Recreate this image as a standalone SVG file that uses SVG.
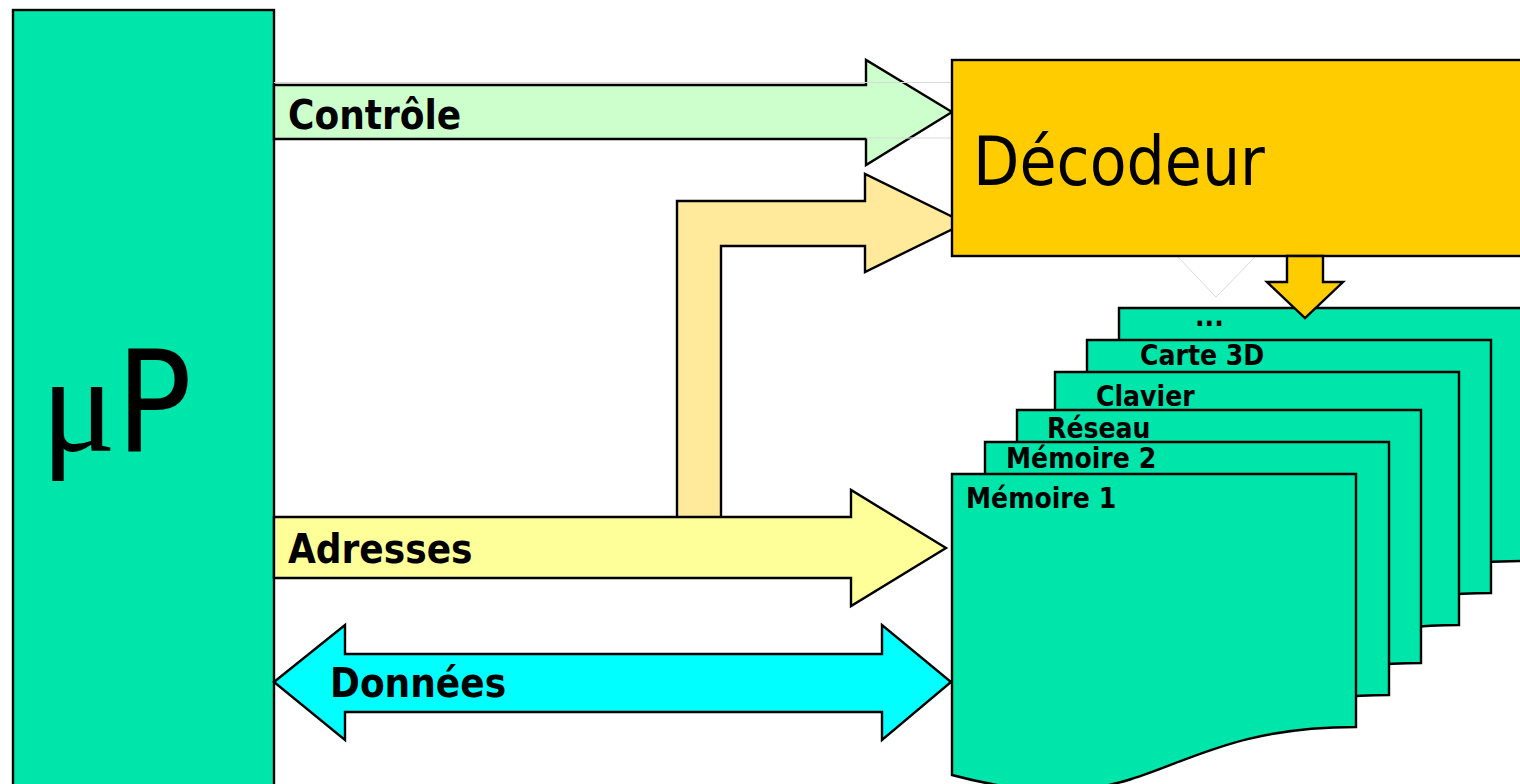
<svg xmlns="http://www.w3.org/2000/svg" xmlns:xlink="http://www.w3.org/1999/xlink" width="1520" height="784" viewBox="0 0 1520 784">
  <style>
    .edge { stroke: #000; stroke-width: 2.4; stroke-linejoin: miter; }
    .bus  { font-family: "DejaVu Sans Condensed", "DejaVu Sans", sans-serif; font-weight: bold; font-size: 40px; fill: #000; }
    .card { fill: #00E5AA; stroke: #000; stroke-width: 2.4; }
    .cardlabel { font-family: "DejaVu Sans Condensed", "DejaVu Sans", sans-serif; font-weight: bold; font-size: 28px; fill: #000; }
    .ghost { stroke: #d9d9d9; stroke-width: 1; fill: none; }
    .mu { font-family: "Liberation Serif", serif; }
    .sans { font-family: "DejaVu Sans Condensed", "DejaVu Sans", sans-serif; }
  </style>
  <defs>
    <!-- document shape: flat top, wavy bottom -->
    <path id="doc" d="M0,0 H404 V253 C202,253 202,355 0,301 Z"/>
  </defs>

  <rect width="1520" height="784" fill="#fff"/>

  <!-- microprocessor -->
  <g id="node-up">
    <rect x="13" y="10" width="261" height="800" fill="#00E5AA" class="edge"/>
    <text x="41" y="451" font-size="140" fill="#000"><tspan class="mu">μ</tspan><tspan class="sans">P</tspan></text>
  </g>

  <!-- buses -->
  <g id="connectors">
    <g id="bus-controle">
      <polygon points="274,85 866,85 866,60 952,112 866,165 866,139 274,139" fill="#CCFFCC" class="edge"/>
      <line x1="274" y1="82.5" x2="952" y2="82.5" class="ghost"/>
      <line x1="866" y1="138" x2="952" y2="138" class="ghost"/>
      <text x="288" y="129" class="bus">Contrôle</text>
    </g>
    <g id="bus-adresses-decodeur">
      <polygon points="677,519 677,201 865,201 865,174 965,223 865,272 865,246 721,246 721,519" fill="#FFEA9C" class="edge"/>
    </g>
    <g id="bus-adresses">
      <polygon points="274,517 851,517 851,490 946,548 851,606 851,578 274,578" fill="#FFFF99" class="edge"/>
      <text x="288" y="563" class="bus">Adresses</text>
    </g>
    <g id="bus-donnees">
      <polygon points="274,682 345,625 345,654 882,654 882,625 951,682 882,740 882,712 345,712 345,740" fill="#00FFFF" class="edge"/>
      <text x="330" y="697" class="bus">Données</text>
    </g>
  </g>

  <!-- address decoder -->
  <g id="node-decodeur">
    <polyline points="1177,256 1216,297 1256,256" class="ghost"/>
    <rect x="952" y="60" width="620" height="196" fill="#FFCC00" class="edge"/>
    <text x="973" y="185" class="sans" font-size="67" fill="#000">Décodeur</text>
  </g>

  <!-- peripherals, back to front -->
  <g id="node-autres">
    <use xlink:href="#doc" href="#doc" x="1119" y="308" class="card"/>
    <text x="1195" y="326" class="cardlabel">...</text>
  </g>
  <g id="node-carte3d">
    <use xlink:href="#doc" href="#doc" x="1087" y="340" class="card"/>
    <text x="1140" y="365" class="cardlabel">Carte 3D</text>
  </g>
  <g id="node-clavier">
    <use xlink:href="#doc" href="#doc" x="1055" y="372" class="card"/>
    <text x="1096" y="406" class="cardlabel">Clavier</text>
  </g>
  <g id="node-reseau">
    <use xlink:href="#doc" href="#doc" x="1017" y="410" class="card"/>
    <text x="1047" y="438" class="cardlabel">Réseau</text>
  </g>
  <g id="node-memoire2">
    <use xlink:href="#doc" href="#doc" x="985" y="442" class="card"/>
    <text x="1006" y="468" class="cardlabel">Mémoire 2</text>
  </g>
  <g id="node-memoire1">
    <use xlink:href="#doc" href="#doc" x="952" y="474" class="card"/>
    <text x="966" y="508" class="cardlabel">Mémoire 1</text>
  </g>

  <!-- chip-select from decoder -->
  <g id="connector-select">
    <polygon points="1287,256 1323,256 1323,282 1343,282 1305,318 1267,282 1287,282" fill="#FFCC00" class="edge"/>
  </g>
</svg>
